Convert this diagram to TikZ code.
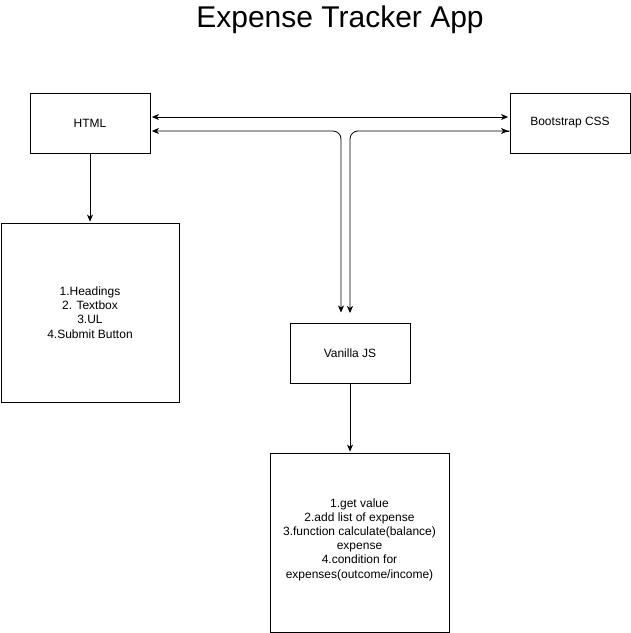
\documentclass[tikz,border=0pt]{standalone}
\usepackage{fontspec}
\setmainfont{Liberation Sans}
\usetikzlibrary{arrows.meta,calc}
\begin{document}
\begin{tikzpicture}[x=1pt,y=-1pt,
  box/.style={draw=black,line width=0.8pt,minimum width=#1,inner sep=0pt,font=\fontsize{12}{14.2}\selectfont,align=center},
  conn/.style={line width=0.8pt,-{Stealth[length=7pt,width=6pt,inset=2pt]},shorten >=1pt},
  bconn/.style={line width=0.8pt,{Stealth[length=7pt,width=6pt,inset=2pt]}-{Stealth[length=7pt,width=6pt,inset=2pt]},shorten >=1.5pt,shorten <=1.5pt}]
\useasboundingbox (0,0) rectangle (631,633);
\node[font=\fontsize{30}{36}\selectfont] (title) at (340,20) {Expense Tracker App};
\node[box=120pt,minimum height=60pt] (html) at (90,123) {HTML};
\node[box=120pt,minimum height=60pt] (css) at (570,123) {Bootstrap CSS};
\node[box=178pt,minimum height=179pt] (list) at (90,312.5) {1.Headings\\2. Textbox\\3.UL\\4.Submit Button};
\node[box=120pt,minimum height=60pt] (js) at (350,353) {Vanilla JS};
\node[box=179pt,minimum height=179pt,label={[font=\fontsize{12}{14.2}\selectfont,align=center,yshift=3pt]center:{1.get value\\2.add list of expense\\3.function calculate(balance)\\expense\\4.condition for\\expenses(outcome/income)}}] (fn) at (359.5,542.5) {};
\coordinate (jl) at (341,131);
\coordinate (jr) at (350,131);
\coordinate (jlb) at (341,323);
\coordinate (jrb) at (350,323);
\draw[bconn] (html.east |- 0,117) -- (css.west |- 0,117);
\draw[bconn,rounded corners=8pt] (html.east |- jl) -- (jl) -- ($(jlb)+(0,-9)$);
\draw[conn,rounded corners=8pt] (css.west |- jr) -- (jr) -- ($(jrb)+(0,-9)$);
\draw[line width=0.8pt,{Stealth[length=7pt,width=6pt,inset=2pt]}-,shorten <=1.5pt] (css.west |- jr) -- +(-1,0);
\draw[conn] (html.south) -- (list.north);
\draw[conn] (js.south) -- (js.south |- fn.north);
\end{tikzpicture}
\end{document}
